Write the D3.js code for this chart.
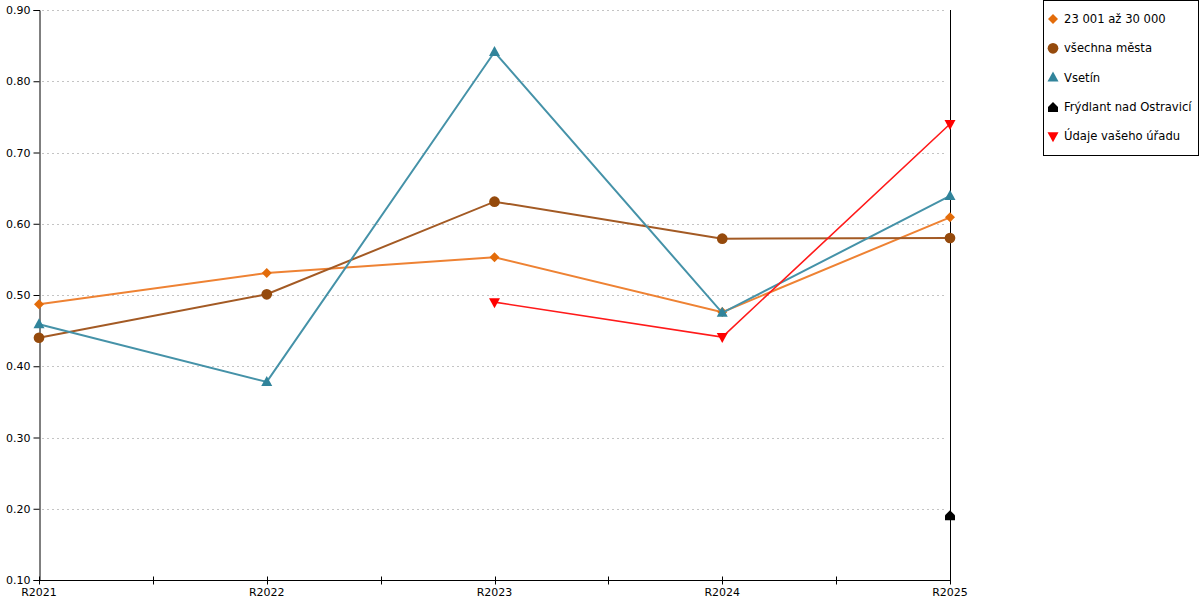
<!DOCTYPE html>
<html>
<head>
<meta charset="utf-8">
<script src="https://cdn.jsdelivr.net/npm/d3@7"></script>
<style>
body { margin: 0; background: #fff; }
text { font-family: "DejaVu Sans", Verdana, sans-serif; }
</style>
</head>
<body>
<div class="c_chart"></div>
<script>
// data
const years = ["R2021", "R2022", "R2023", "R2024", "R2025"];
const yTicks = [0.1, 0.2, 0.3, 0.4, 0.5, 0.6, 0.7, 0.8, 0.9];

const seriesNames = ["23 001 až 30 000", "všechna města", "Vsetín", "Frýdlant nad Ostravicí", "Údaje vašeho úřadu"];
const valsSize = [0.487, 0.531, 0.553, 0.476, 0.609];
const valsAll = [0.440, 0.501, 0.631, 0.579, 0.580];
const valsVsetin = [0.459, 0.378, 0.841, 0.475, 0.639];
const valsFrydlant = [null, null, null, null, 0.191];
const valsOffice = [null, null, 0.490, 0.441, 0.740];

const series = [
	{name: seriesNames[0], values: valsSize, line: "#ee8233", fill: "#e36c0a", shape: "diamond", w: 2},
	{name: seriesNames[1], values: valsAll, line: "#a35a24", fill: "#954a0c", shape: "circle", w: 2},
	{name: seriesNames[2], values: valsVsetin, line: "#4592a8", fill: "#31849b", shape: "up", w: 2},
	{name: seriesNames[3], values: valsFrydlant, line: "#000", fill: "#000", shape: "house", w: 2},
	{name: seriesNames[4], values: valsOffice, line: "#ff1a1a", fill: "#ff0000", shape: "down", w: 1.6}
];

/* SVG */
const width = 1200, height = 600;
const margin = {top: 10, right: 250, bottom: 20, left: 39};

let svg = d3.select(".c_chart")
	.append("svg")
	.attr("width", width)
	.attr("height", height);

let x = d3.scalePoint()
	.domain(years)
	.range([margin.left, 950]);

let y = d3.scaleLinear()
	.domain([0.1, 0.9])
	.range([height - margin.bottom, margin.top]);

// gridlines
svg.append("g")
	.selectAll("line")
	.data(yTicks.slice(1))
	.enter()
	.append("line")
	.attr("x1", margin.left + 3)
	.attr("x2", 946)
	.attr("y1", d => Math.round(y(d)) + 0.5)
	.attr("y2", d => Math.round(y(d)) + 0.5)
	.attr("stroke", "#c4c4c4")
	.attr("stroke-dasharray", "2,3");

// y axis
let yAxis = svg.append("g")
	.attr("transform", `translate(${margin.left + 0.5},0)`)
	.call(d3.axisLeft(y).tickValues(yTicks).tickFormat(d3.format(".2f")).tickSizeOuter(0).tickSize(6));
yAxis.select(".domain").attr("stroke", "#000");
yAxis.selectAll("text").attr("font-size", 11).attr("fill", "#000").attr("x", -9).attr("font-family", "DejaVu Sans");

// x axis
let xAxis = svg.append("g")
	.attr("transform", `translate(0,${y(0.1) + 0.5})`);
xAxis.append("line")
	.attr("x1", margin.left)
	.attr("x2", 950.5)
	.attr("stroke", "#000");
// ticks between and on categories
let step = x.step();
let tickPos = [];
years.forEach((d, i) => {
	tickPos.push(x(d));
	if (i < years.length - 1) tickPos.push(x(d) + step / 2);
});
xAxis.selectAll(".tk")
	.data(tickPos)
	.enter()
	.append("line")
	.attr("class", "tk")
	.attr("x1", d => Math.round(d) + 0.5)
	.attr("x2", d => Math.round(d) + 0.5)
	.attr("y1", -4)
	.attr("y2", 4)
	.attr("stroke", "#000");
xAxis.selectAll(".lbl")
	.data(years)
	.enter()
	.append("text")
	.attr("class", "lbl")
	.attr("x", d => x(d))
	.attr("y", 15)
	.attr("text-anchor", "middle")
	.attr("font-size", 11)
	.text(d => d);

// right vertical line
svg.append("line")
	.attr("x1", 950.5)
	.attr("x2", 950.5)
	.attr("y1", y(0.9))
	.attr("y2", y(0.1))
	.attr("stroke", "#000");

// marker shapes
function markerPath(shape) {
	switch (shape) {
		case "diamond": return "M0,-5L5,0L0,5L-5,0Z";
		case "circle": return d3.symbol(d3.symbolCircle, 90)();
		case "up": return "M0,-6L5.5,4L-5.5,4Z";
		case "down": return "M0,6L5.5,-4L-5.5,-4Z";
		case "house": return "M0,-5L5,0L5,5L-5,5L-5,0Z";
	}
}

let line = d3.line()
	.defined(d => d != null)
	.x((d, i) => x(years[i]))
	.y(d => y(d));

series.forEach(s => {
	let g = svg.append("g");
	g.append("path")
		.datum(s.values)
		.attr("d", line)
		.attr("fill", "none")
		.attr("stroke", s.line)
		.attr("stroke-width", s.w);
	g.selectAll("path.mk")
		.data(s.values.map((v, i) => ({v, i})).filter(d => d.v != null))
		.enter()
		.append("path")
		.attr("class", "mk")
		.attr("d", markerPath(s.shape))
		.attr("transform", d => `translate(${x(years[d.i])},${y(d.v)})`)
		.attr("fill", s.fill);
});

// legend
let lg = svg.append("g");
lg.append("rect")
	.attr("x", 1043.5)
	.attr("y", 0.5)
	.attr("width", 155)
	.attr("height", 155)
	.attr("fill", "#fff")
	.attr("stroke", "#000");
series.forEach((s, i) => {
	let yy = 19 + i * 29.3;
	lg.append("path")
		.attr("d", markerPath(s.shape))
		.attr("transform", `translate(1053,${yy})`)
		.attr("fill", s.fill);
	lg.append("text")
		.attr("x", 1064)
		.attr("y", yy + 4)
		.attr("font-size", 11.6)
		.text(s.name);
});
</script>
</body>
</html>
